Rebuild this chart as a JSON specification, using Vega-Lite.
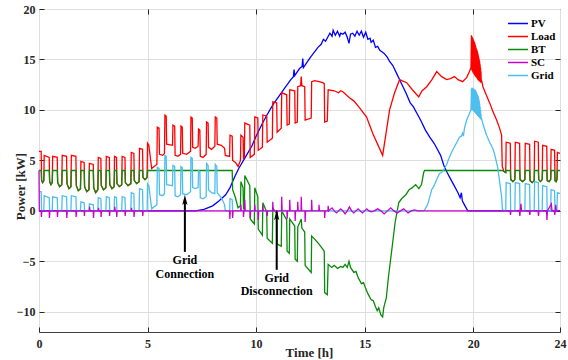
{
  "$schema": "https://vega.github.io/schema/vega-lite/v6.json",
  "width": 521,
  "height": 323,
  "autosize": {"type": "none"},
  "padding": {"left": 39, "top": 9, "right": 8, "bottom": 28},
  "background": "white",
  "config": {
    "view": {"stroke": "#404040", "strokeWidth": 1},
    "axis": {
      "labelFont": "Liberation Serif", "labelFontWeight": "bold", "labelFontSize": 12, "labelColor": "#262626",
      "titleFont": "Liberation Serif", "titleFontWeight": "bold", "titleFontSize": 13, "titleColor": "#262626",
      "domain": false, "tickColor": "#262626", "tickSize": -5, "gridColor": "#dedede", "gridWidth": 1,
      "labelFlush": false, "labelOverlap": false
    }
  },
  "datasets": {
    "pv": [
      {"t":0,"v":0},{"t":7.2,"v":0},{"t":7.6,"v":0.15},{"t":8.0,"v":0.5},{"t":8.3,"v":1.0},{"t":8.6,"v":1.6},{"t":8.8,"v":2.3},{"t":9.0,"v":3.3},{"t":9.2,"v":4.2},{"t":9.5,"v":5.3},{"t":9.8,"v":6.4},{"t":10.0,"v":7.4},{"t":10.3,"v":8.7},{"t":10.5,"v":9.5},{"t":10.8,"v":10.6},{"t":11.0,"v":11.2},{"t":11.3,"v":12.1},{"t":11.6,"v":13.0},{"t":11.72,"v":13.3},{"t":11.75,"v":14.0},{"t":11.78,"v":13.4},{"t":12.0,"v":14.1},{"t":12.12,"v":14.3},{"t":12.15,"v":15.1},{"t":12.18,"v":14.2},{"t":12.5,"v":15.2},{"t":12.85,"v":16.2},{"t":13.0,"v":16.5},{"t":13.1,"v":17.0},{"t":13.2,"v":16.8},{"t":13.4,"v":17.6},{"t":13.5,"v":17.3},{"t":13.55,"v":17.9},{"t":13.65,"v":17.4},{"t":13.75,"v":17.8},{"t":13.85,"v":17.3},{"t":13.9,"v":17.6},{"t":14.0,"v":17.5},{"t":14.1,"v":17.7},{"t":14.2,"v":17.2},{"t":14.28,"v":16.6},{"t":14.35,"v":17.5},{"t":14.45,"v":17.6},{"t":14.55,"v":17.3},{"t":14.65,"v":17.8},{"t":14.75,"v":17.4},{"t":14.85,"v":17.8},{"t":14.95,"v":17.2},{"t":15.05,"v":17.7},{"t":15.15,"v":17.0},{"t":15.25,"v":17.1},{"t":15.3,"v":16.7},{"t":15.4,"v":16.9},{"t":15.5,"v":16.2},{"t":15.6,"v":16.3},{"t":15.7,"v":15.9},{"t":15.9,"v":15.6},{"t":16.05,"v":15.2},{"t":16.15,"v":14.8},{"t":16.3,"v":14.4},{"t":16.5,"v":13.5},{"t":16.7,"v":12.6},{"t":16.9,"v":11.7},{"t":17.1,"v":10.7},{"t":17.25,"v":10.3},{"t":17.4,"v":9.7},{"t":17.6,"v":8.9},{"t":17.8,"v":8.0},{"t":18.0,"v":7.3},{"t":18.2,"v":6.7},{"t":18.35,"v":6.1},{"t":18.5,"v":5.5},{"t":18.65,"v":4.5},{"t":18.8,"v":3.8},{"t":18.95,"v":3.2},{"t":19.1,"v":2.6},{"t":19.3,"v":1.8},{"t":19.4,"v":1.3},{"t":19.46,"v":1.8},{"t":19.5,"v":1.0},{"t":19.6,"v":0.6},{"t":19.75,"v":0},{"t":24,"v":0}
    ],
    "load": [
      {"t":0,"v":5.9},{"t":0.1,"v":5.9},{"t":0.12,"v":3.0},{"t":0.17,"v":2.8},{"t":0.22,"v":3.0},{"t":0.24,"v":5.5},{"t":0.47,"v":5.3},{"t":0.49,"v":2.9},{"t":0.55,"v":2.6},{"t":0.61,"v":2.8},{"t":0.63,"v":5.4},{"t":0.84,"v":5.3},{"t":0.86,"v":2.8},{"t":0.95,"v":2.4},{"t":1.05,"v":2.6},{"t":1.07,"v":5.5},{"t":1.27,"v":5.4},{"t":1.29,"v":2.7},{"t":1.38,"v":2.2},{"t":1.47,"v":2.4},{"t":1.49,"v":5.5},{"t":1.70,"v":5.4},{"t":1.72,"v":2.5},{"t":1.81,"v":2.0},{"t":1.91,"v":2.2},{"t":1.93,"v":4.9},{"t":2.08,"v":4.8},{"t":2.10,"v":2.4},{"t":2.2,"v":1.9},{"t":2.30,"v":2.1},{"t":2.32,"v":4.7},{"t":2.50,"v":4.6},{"t":2.52,"v":2.3},{"t":2.61,"v":1.8},{"t":2.71,"v":2.1},{"t":2.73,"v":5.3},{"t":2.85,"v":5.2},{"t":2.87,"v":2.5},{"t":2.97,"v":2.1},{"t":3.08,"v":2.3},{"t":3.10,"v":5.4},{"t":3.24,"v":5.3},{"t":3.26,"v":2.6},{"t":3.36,"v":2.2},{"t":3.46,"v":2.4},{"t":3.48,"v":5.4},{"t":3.57,"v":5.3},{"t":3.59,"v":2.7},{"t":3.7,"v":2.4},{"t":3.81,"v":2.6},{"t":3.83,"v":5.4},{"t":3.96,"v":5.3},{"t":3.98,"v":2.8},{"t":4.1,"v":2.5},{"t":4.23,"v":2.7},{"t":4.25,"v":5.8},{"t":4.37,"v":5.7},{"t":4.39,"v":3.0},{"t":4.5,"v":2.7},{"t":4.61,"v":2.9},{"t":4.63,"v":6.2},{"t":4.77,"v":6.1},{"t":4.79,"v":3.3},{"t":4.88,"v":3.1},{"t":4.98,"v":3.3},
      {"t":5.0,"v":6.7},{"t":5.06,"v":6.5},{"t":5.19,"v":4.2},{"t":5.3,"v":4.4},{"t":5.43,"v":4.6},{"t":5.45,"v":8.3},{"t":5.53,"v":8.2},{"t":5.55,"v":5.6},{"t":5.7,"v":5.5},{"t":5.78,"v":5.7},{"t":5.8,"v":9.5},{"t":5.86,"v":9.4},{"t":5.88,"v":6.6},{"t":6.15,"v":6.5},{"t":6.17,"v":8.5},{"t":6.25,"v":8.4},{"t":6.27,"v":5.5},{"t":6.4,"v":5.4},{"t":6.52,"v":5.6},{"t":6.54,"v":8.4},{"t":6.6,"v":8.3},{"t":6.62,"v":5.7},{"t":6.8,"v":5.6},{"t":6.98,"v":5.9},{"t":7.0,"v":9.3},{"t":7.06,"v":9.2},{"t":7.08,"v":6.3},{"t":7.2,"v":6.2},{"t":7.33,"v":6.4},{"t":7.35,"v":8.1},{"t":7.41,"v":8.0},{"t":7.43,"v":5.4},{"t":7.55,"v":5.3},{"t":7.7,"v":5.6},{"t":7.72,"v":8.8},{"t":7.79,"v":8.7},{"t":7.81,"v":6.3},{"t":7.95,"v":6.1},{"t":8.1,"v":6.4},{"t":8.12,"v":9.3},{"t":8.19,"v":9.2},{"t":8.21,"v":6.6},{"t":8.4,"v":6.5},{"t":8.55,"v":6.2},{"t":8.58,"v":5.5},{"t":8.78,"v":5.4},{"t":8.8,"v":7.5},{"t":8.9,"v":7.4},{"t":8.92,"v":5.0},{"t":9.05,"v":4.8},{"t":9.17,"v":4.4},{"t":9.28,"v":5.0},{"t":9.3,"v":7.5},{"t":9.4,"v":7.3},{"t":9.42,"v":5.2},{"t":9.46,"v":5.3},{"t":9.48,"v":8.7},{"t":9.71,"v":8.5},{"t":9.73,"v":5.3},{"t":9.92,"v":5.6},{"t":9.94,"v":9.3},{"t":10.08,"v":9.2},{"t":10.1,"v":6.0},{"t":10.29,"v":6.3},{"t":10.31,"v":9.5},{"t":10.49,"v":9.4},{"t":10.51,"v":6.8},{"t":10.75,"v":7.2},{"t":10.77,"v":10.8},{"t":10.95,"v":10.7},{"t":10.97,"v":7.8},{"t":11.16,"v":8.2},{"t":11.18,"v":11.7},{"t":11.41,"v":11.5},{"t":11.43,"v":8.5},{"t":11.53,"v":8.6},{"t":11.55,"v":12.0},{"t":11.78,"v":11.9},{"t":11.8,"v":8.7},{"t":11.9,"v":8.8},{"t":11.92,"v":12.3},{"t":12.05,"v":12.4},{"t":12.08,"v":13.3},{"t":12.11,"v":12.4},{"t":12.24,"v":12.3},{"t":12.26,"v":9.0},{"t":12.54,"v":9.2},{"t":12.56,"v":12.8},{"t":12.7,"v":12.9},{"t":12.9,"v":12.8},{"t":13.07,"v":12.7},{"t":13.14,"v":12.6},{"t":13.16,"v":8.8},{"t":13.28,"v":8.9},{"t":13.32,"v":12.0},{"t":13.6,"v":11.9},{"t":13.8,"v":11.7},{"t":13.9,"v":11.9},{"t":14.0,"v":11.8},{"t":14.3,"v":11.2},{"t":14.5,"v":10.9},{"t":14.77,"v":10.2},{"t":15.09,"v":9.3},{"t":15.37,"v":7.7},{"t":15.83,"v":5.5},{"t":16.15,"v":10.0},{"t":16.38,"v":11.7},{"t":16.61,"v":13.0},{"t":16.94,"v":12.7},{"t":17.2,"v":12.0},{"t":17.49,"v":11.3},{"t":17.65,"v":11.9},{"t":17.86,"v":12.3},{"t":18.1,"v":13.0},{"t":18.32,"v":13.8},{"t":18.55,"v":13.3},{"t":18.78,"v":13.0},{"t":18.95,"v":13.1},{"t":19.14,"v":13.3},{"t":19.3,"v":13.0},{"t":19.51,"v":12.8},{"t":19.7,"v":13.2},{"t":19.83,"v":13.8},{"t":19.9,"v":14.2},
      {"t":19.92,"v":17.4},{"t":19.93,"v":14.0},{"t":19.94,"v":17.3},{"t":19.95,"v":13.9},{"t":19.96,"v":17.2},{"t":19.97,"v":13.8},{"t":19.98,"v":17.1},{"t":19.99,"v":13.7},{"t":20.0,"v":17.0},{"t":20.01,"v":13.6},{"t":20.02,"v":16.9},{"t":20.03,"v":13.6},{"t":20.04,"v":16.8},{"t":20.05,"v":13.5},{"t":20.06,"v":16.7},{"t":20.07,"v":13.4},{"t":20.08,"v":16.6},{"t":20.09,"v":13.4},{"t":20.1,"v":16.4},{"t":20.11,"v":13.3},{"t":20.12,"v":16.3},{"t":20.13,"v":13.3},{"t":20.14,"v":16.1},{"t":20.15,"v":13.2},{"t":20.16,"v":16.0},{"t":20.17,"v":13.2},{"t":20.18,"v":15.9},{"t":20.19,"v":13.1},{"t":20.2,"v":15.8},{"t":20.21,"v":13.0},{"t":20.22,"v":15.6},{"t":20.23,"v":13.0},{"t":20.24,"v":15.4},{"t":20.25,"v":12.9},{"t":20.26,"v":15.2},{"t":20.27,"v":12.9},{"t":20.28,"v":15.0},{"t":20.29,"v":12.8},{"t":20.3,"v":14.8},{"t":20.31,"v":12.8},{"t":20.32,"v":14.5},{"t":20.33,"v":12.8},{"t":20.34,"v":14.2},{"t":20.35,"v":12.7},{"t":20.36,"v":13.8},{"t":20.37,"v":12.7},{"t":20.38,"v":13.0},
      {"t":20.45,"v":12.3},{"t":20.6,"v":11.5},{"t":20.76,"v":10.7},{"t":20.9,"v":9.9},{"t":21.08,"v":9.0},{"t":21.2,"v":8.3},{"t":21.31,"v":7.5},{"t":21.34,"v":4.4},{"t":21.42,"v":3.9},{"t":21.5,"v":3.8},
      {"t":21.52,"v":6.8},{"t":21.71,"v":6.7},{"t":21.73,"v":3.1},{"t":21.83,"v":2.9},{"t":21.92,"v":3.1},{"t":21.94,"v":6.8},{"t":22.14,"v":6.7},{"t":22.16,"v":3.1},{"t":22.28,"v":2.9},{"t":22.38,"v":3.1},{"t":22.40,"v":6.7},{"t":22.60,"v":6.6},{"t":22.62,"v":3.0},{"t":22.72,"v":2.8},{"t":22.81,"v":3.0},{"t":22.83,"v":6.9},{"t":23.00,"v":6.8},{"t":23.02,"v":3.1},{"t":23.1,"v":2.9},{"t":23.18,"v":3.1},{"t":23.20,"v":6.5},{"t":23.39,"v":6.4},{"t":23.41,"v":3.0},{"t":23.5,"v":2.9},{"t":23.57,"v":3.1},{"t":23.59,"v":6.1},{"t":23.75,"v":6.0},{"t":23.77,"v":3.0},{"t":23.82,"v":2.9},{"t":23.86,"v":3.1},{"t":23.88,"v":5.8},{"t":24.0,"v":5.7}
    ],
    "bt": [
      {"t":0,"v":4.0},{"t":0.1,"v":4.0},{"t":0.12,"v":3.0},{"t":0.17,"v":2.8},{"t":0.22,"v":3.0},{"t":0.24,"v":4.0},{"t":0.47,"v":4.0},{"t":0.49,"v":2.9},{"t":0.55,"v":2.6},{"t":0.61,"v":2.8},{"t":0.63,"v":4.0},{"t":0.84,"v":4.0},{"t":0.86,"v":2.8},{"t":0.95,"v":2.4},{"t":1.05,"v":2.6},{"t":1.07,"v":4.0},{"t":1.27,"v":4.0},{"t":1.29,"v":2.7},{"t":1.38,"v":2.2},{"t":1.47,"v":2.4},{"t":1.49,"v":4.0},{"t":1.70,"v":4.0},{"t":1.72,"v":2.5},{"t":1.81,"v":2.0},{"t":1.91,"v":2.2},{"t":1.93,"v":4.0},{"t":2.08,"v":4.0},{"t":2.10,"v":2.4},{"t":2.2,"v":1.9},{"t":2.30,"v":2.1},{"t":2.32,"v":4.0},{"t":2.50,"v":4.0},{"t":2.52,"v":2.3},{"t":2.61,"v":1.8},{"t":2.71,"v":2.1},{"t":2.73,"v":4.0},{"t":2.85,"v":4.0},{"t":2.87,"v":2.5},{"t":2.97,"v":2.1},{"t":3.08,"v":2.3},{"t":3.10,"v":4.0},{"t":3.24,"v":4.0},{"t":3.26,"v":2.6},{"t":3.36,"v":2.2},{"t":3.46,"v":2.4},{"t":3.48,"v":4.0},{"t":3.57,"v":4.0},{"t":3.59,"v":2.7},{"t":3.7,"v":2.4},{"t":3.81,"v":2.6},{"t":3.83,"v":4.0},{"t":3.96,"v":4.0},{"t":3.98,"v":2.8},{"t":4.1,"v":2.5},{"t":4.23,"v":2.7},{"t":4.25,"v":4.0},{"t":4.37,"v":4.0},{"t":4.39,"v":3.0},{"t":4.5,"v":2.7},{"t":4.61,"v":2.9},{"t":4.63,"v":4.0},{"t":4.77,"v":4.0},{"t":4.79,"v":3.3},{"t":4.88,"v":3.1},{"t":4.98,"v":3.3},
      {"t":5.0,"v":4.0},{"t":8.75,"v":4.0},{"t":8.9,"v":4.0},{"t":8.92,"v":2.1},{"t":9.05,"v":1.3},{"t":9.17,"v":0.3},{"t":9.28,"v":0.5},{"t":9.3,"v":2.9},{"t":9.4,"v":2.3},{"t":9.42,"v":0.2},{"t":9.46,"v":0.2},{"t":9.48,"v":3.5},{"t":9.71,"v":2.5},{"t":9.73,"v":-0.8},{"t":9.92,"v":-1.3},{"t":9.94,"v":2.3},{"t":10.08,"v":1.4},{"t":10.1,"v":-1.8},{"t":10.29,"v":-2.4},{"t":10.31,"v":0.8},{"t":10.49,"v":-0.1},{"t":10.51,"v":-2.7},{"t":10.75,"v":-3.2},{"t":10.77,"v":0.3},{"t":10.95,"v":-0.3},{"t":10.97,"v":-3.3},{"t":11.16,"v":-3.5},{"t":11.18,"v":0.0},{"t":11.41,"v":-0.9},{"t":11.43,"v":-4.0},{"t":11.53,"v":-4.2},{"t":11.55,"v":-0.8},{"t":11.78,"v":-1.5},{"t":11.8,"v":-4.8},{"t":11.9,"v":-5.0},{"t":11.92,"v":-1.6},{"t":12.08,"v":-0.8},{"t":12.11,"v":-1.7},{"t":12.24,"v":-2.1},{"t":12.26,"v":-5.4},{"t":12.54,"v":-6.1},{"t":12.56,"v":-2.5},{"t":12.7,"v":-2.8},{"t":12.9,"v":-3.3},{"t":13.07,"v":-3.8},{"t":13.14,"v":-4.0},{"t":13.16,"v":-8.1},{"t":13.28,"v":-8.3},{"t":13.32,"v":-5.3},{"t":13.48,"v":-5.6},{"t":13.6,"v":-5.4},{"t":13.75,"v":-5.7},{"t":13.9,"v":-5.5},{"t":14.0,"v":-5.6},{"t":14.1,"v":-5.3},{"t":14.2,"v":-5.6},{"t":14.28,"v":-5.0},{"t":14.35,"v":-5.6},{"t":14.5,"v":-6.1},{"t":14.6,"v":-6.0},{"t":14.7,"v":-6.6},{"t":14.85,"v":-7.2},{"t":14.95,"v":-7.1},{"t":15.05,"v":-7.7},{"t":15.15,"v":-8.2},{"t":15.3,"v":-8.8},{"t":15.4,"v":-8.9},{"t":15.5,"v":-9.5},{"t":15.58,"v":-9.9},{"t":15.65,"v":-9.6},{"t":15.75,"v":-10.3},{"t":15.83,"v":-10.5},{"t":15.88,"v":-9.6},{"t":16.0,"v":-8.6},{"t":16.1,"v":-6.5},{"t":16.25,"v":-3.9},{"t":16.4,"v":-1.2},{"t":16.57,"v":0.8},{"t":16.7,"v":1.2},{"t":16.9,"v":1.6},{"t":17.05,"v":2.1},{"t":17.2,"v":2.3},{"t":17.35,"v":2.6},{"t":17.5,"v":2.2},{"t":17.62,"v":2.6},{"t":17.72,"v":3.8},{"t":17.76,"v":4.0},
      {"t":21.34,"v":4.0},{"t":21.42,"v":3.9},{"t":21.5,"v":3.8},{"t":21.52,"v":4.0},{"t":21.71,"v":4.0},{"t":21.73,"v":3.1},{"t":21.83,"v":2.9},{"t":21.92,"v":3.1},{"t":21.94,"v":4.0},{"t":22.14,"v":4.0},{"t":22.16,"v":3.1},{"t":22.28,"v":2.9},{"t":22.38,"v":3.1},{"t":22.40,"v":4.0},{"t":22.60,"v":4.0},{"t":22.62,"v":3.0},{"t":22.72,"v":2.8},{"t":22.81,"v":3.0},{"t":22.83,"v":4.0},{"t":23.00,"v":4.0},{"t":23.02,"v":3.1},{"t":23.1,"v":2.9},{"t":23.18,"v":3.1},{"t":23.20,"v":4.0},{"t":23.39,"v":4.0},{"t":23.41,"v":3.0},{"t":23.5,"v":2.9},{"t":23.57,"v":3.1},{"t":23.59,"v":4.0},{"t":23.75,"v":4.0},{"t":23.77,"v":3.0},{"t":23.82,"v":2.9},{"t":23.86,"v":3.1},{"t":23.88,"v":4.0},{"t":24.0,"v":4.0}
    ],
    "grid": [
      {"t":0,"v":1.9},{"t":0.1,"v":1.9},{"t":0.12,"v":0},{"t":0.22,"v":0},{"t":0.24,"v":1.5},{"t":0.47,"v":1.3},{"t":0.49,"v":0},{"t":0.61,"v":0},{"t":0.63,"v":1.4},{"t":0.84,"v":1.3},{"t":0.86,"v":0},{"t":1.05,"v":0},{"t":1.07,"v":1.5},{"t":1.27,"v":1.4},{"t":1.29,"v":0},{"t":1.47,"v":0},{"t":1.49,"v":1.5},{"t":1.70,"v":1.4},{"t":1.72,"v":0},{"t":1.91,"v":0},{"t":1.93,"v":0.9},{"t":2.08,"v":0.8},{"t":2.10,"v":0},{"t":2.30,"v":0},{"t":2.32,"v":0.7},{"t":2.50,"v":0.6},{"t":2.52,"v":0},{"t":2.71,"v":0},{"t":2.73,"v":1.3},{"t":2.85,"v":1.2},{"t":2.87,"v":0},{"t":3.08,"v":0},{"t":3.10,"v":1.4},{"t":3.24,"v":1.3},{"t":3.26,"v":0},{"t":3.46,"v":0},{"t":3.48,"v":1.4},{"t":3.57,"v":1.3},{"t":3.59,"v":0},{"t":3.81,"v":0},{"t":3.83,"v":1.4},{"t":3.96,"v":1.3},{"t":3.98,"v":0},{"t":4.23,"v":0},{"t":4.25,"v":1.8},{"t":4.37,"v":1.7},{"t":4.39,"v":0},{"t":4.61,"v":0},{"t":4.63,"v":2.2},{"t":4.77,"v":2.1},{"t":4.79,"v":0},{"t":4.98,"v":0},
      {"t":5.0,"v":2.7},{"t":5.06,"v":2.5},{"t":5.19,"v":0.2},{"t":5.3,"v":0.4},{"t":5.43,"v":0.6},{"t":5.45,"v":4.3},{"t":5.53,"v":4.2},{"t":5.55,"v":1.6},{"t":5.7,"v":1.5},{"t":5.78,"v":1.7},{"t":5.8,"v":5.5},{"t":5.86,"v":5.4},{"t":5.88,"v":2.6},{"t":6.15,"v":2.5},{"t":6.17,"v":4.5},{"t":6.25,"v":4.4},{"t":6.27,"v":1.5},{"t":6.4,"v":1.4},{"t":6.52,"v":1.6},{"t":6.54,"v":4.4},{"t":6.6,"v":4.3},{"t":6.62,"v":1.7},{"t":6.8,"v":1.6},{"t":6.98,"v":1.9},{"t":7.0,"v":5.3},{"t":7.06,"v":5.2},{"t":7.08,"v":2.3},{"t":7.2,"v":2.2},{"t":7.33,"v":2.3},{"t":7.35,"v":4.0},{"t":7.41,"v":3.9},{"t":7.43,"v":1.3},{"t":7.55,"v":1.2},{"t":7.7,"v":1.4},{"t":7.72,"v":4.7},{"t":7.79,"v":4.5},{"t":7.81,"v":2.1},{"t":7.95,"v":1.8},{"t":8.1,"v":1.7},{"t":8.12,"v":4.6},{"t":8.19,"v":4.4},{"t":8.21,"v":1.8},{"t":8.4,"v":1.3},{"t":8.55,"v":0.6},{"t":8.58,"v":0},{"t":8.78,"v":0},{"t":8.8,"v":1.2},{"t":8.9,"v":1.1},{"t":8.92,"v":0},
      {"t":17.72,"v":0},{"t":17.76,"v":0.1},{"t":17.9,"v":0.6},{"t":18.09,"v":2.1},{"t":18.2,"v":2.5},{"t":18.32,"v":3.1},{"t":18.45,"v":3.7},{"t":18.55,"v":3.8},{"t":18.65,"v":4.1},{"t":18.78,"v":4.6},{"t":18.9,"v":5.3},{"t":19.05,"v":6.0},{"t":19.2,"v":6.6},{"t":19.37,"v":7.3},{"t":19.45,"v":7.4},{"t":19.51,"v":7.7},{"t":19.55,"v":7.4},{"t":19.6,"v":8.2},{"t":19.7,"v":9.0},{"t":19.8,"v":9.5},{"t":19.9,"v":10.0},
      {"t":19.92,"v":12.1},{"t":19.93,"v":10.0},{"t":19.94,"v":12.2},{"t":19.95,"v":10.1},{"t":19.96,"v":12.1},{"t":19.97,"v":10.0},{"t":19.98,"v":12.2},{"t":19.99,"v":10.0},{"t":20.0,"v":12.1},{"t":20.01,"v":9.9},{"t":20.02,"v":12.0},{"t":20.03,"v":9.9},{"t":20.04,"v":12.1},{"t":20.05,"v":9.8},{"t":20.06,"v":12.0},{"t":20.07,"v":9.8},{"t":20.08,"v":11.9},{"t":20.09,"v":9.7},{"t":20.1,"v":12.0},{"t":20.11,"v":9.7},{"t":20.12,"v":11.9},{"t":20.13,"v":9.6},{"t":20.14,"v":11.8},{"t":20.15,"v":9.6},{"t":20.16,"v":11.7},{"t":20.17,"v":9.5},{"t":20.18,"v":11.6},{"t":20.19,"v":9.5},{"t":20.2,"v":11.5},{"t":20.21,"v":9.4},{"t":20.22,"v":11.4},{"t":20.23,"v":9.4},{"t":20.24,"v":11.3},{"t":20.25,"v":9.3},{"t":20.26,"v":11.1},{"t":20.27,"v":9.3},{"t":20.28,"v":10.9},{"t":20.29,"v":9.2},{"t":20.3,"v":10.6},{"t":20.31,"v":9.2},{"t":20.32,"v":10.3},{"t":20.33,"v":9.1},{"t":20.34,"v":10.0},{"t":20.35,"v":9.1},{"t":20.36,"v":9.6},{"t":20.37,"v":9.0},{"t":20.38,"v":9.2},
      {"t":20.45,"v":8.6},{"t":20.6,"v":7.6},{"t":20.76,"v":6.8},{"t":20.9,"v":6.2},{"t":20.98,"v":5.7},{"t":21.12,"v":4.4},{"t":21.2,"v":3.2},{"t":21.31,"v":1.4},{"t":21.35,"v":0.1},{"t":21.5,"v":0},
      {"t":21.52,"v":2.8},{"t":21.71,"v":2.7},{"t":21.73,"v":0},{"t":21.92,"v":0},{"t":21.94,"v":2.8},{"t":22.14,"v":2.7},{"t":22.16,"v":0},{"t":22.38,"v":0},{"t":22.40,"v":2.7},{"t":22.60,"v":2.6},{"t":22.62,"v":0},{"t":22.81,"v":0},{"t":22.83,"v":2.9},{"t":23.00,"v":2.8},{"t":23.02,"v":0},{"t":23.18,"v":0},{"t":23.20,"v":2.5},{"t":23.39,"v":2.4},{"t":23.41,"v":0},{"t":23.57,"v":0},{"t":23.59,"v":2.1},{"t":23.75,"v":2.0},{"t":23.77,"v":0},{"t":23.86,"v":0},{"t":23.88,"v":1.8},{"t":24.0,"v":1.7}
    ],
    "sc": [
      {"t":0,"v":4.0},{"t":0.015,"v":0},{"t":0.1,"v":0},{"t":0.11,"v":-0.6},{"t":0.13,"v":0},{"t":0.47,"v":0},{"t":0.48,"v":-0.7},{"t":0.5,"v":0},{"t":0.84,"v":0},{"t":0.85,"v":-0.6},{"t":0.87,"v":0},{"t":1.27,"v":0},{"t":1.28,"v":-0.7},{"t":1.3,"v":0},{"t":1.7,"v":0},{"t":1.71,"v":-0.6},{"t":1.73,"v":0},{"t":2.08,"v":0},{"t":2.09,"v":-0.5},{"t":2.11,"v":0},{"t":2.32,"v":0},{"t":2.33,"v":0.4},{"t":2.35,"v":0},{"t":2.5,"v":0},{"t":2.51,"v":-0.7},{"t":2.53,"v":0},{"t":2.73,"v":0},{"t":2.74,"v":0.3},{"t":2.76,"v":0},{"t":2.85,"v":0},{"t":2.86,"v":-0.6},{"t":2.88,"v":0},{"t":3.24,"v":0},{"t":3.25,"v":-0.5},{"t":3.27,"v":0},{"t":3.48,"v":0},{"t":3.49,"v":0.4},{"t":3.51,"v":0},{"t":3.57,"v":0},{"t":3.58,"v":-0.6},{"t":3.6,"v":0},{"t":3.96,"v":0},{"t":3.97,"v":-0.5},{"t":3.99,"v":0},{"t":4.25,"v":0},{"t":4.26,"v":0.3},{"t":4.28,"v":0},{"t":4.37,"v":0},{"t":4.38,"v":-0.6},{"t":4.4,"v":0},{"t":4.77,"v":0},{"t":4.78,"v":-0.5},{"t":4.8,"v":0},
      {"t":8.78,"v":0},{"t":8.79,"v":-0.8},{"t":8.81,"v":0},{"t":8.91,"v":0},{"t":8.92,"v":-0.7},{"t":8.94,"v":0},{"t":9.29,"v":0},{"t":9.3,"v":0.6},{"t":9.32,"v":0},{"t":9.41,"v":0},{"t":9.42,"v":-0.6},{"t":9.44,"v":0},{"t":9.47,"v":0},{"t":9.48,"v":1.1},{"t":9.5,"v":0},{"t":9.72,"v":0},{"t":9.73,"v":-0.7},{"t":9.75,"v":0},{"t":9.93,"v":0},{"t":9.94,"v":0.6},{"t":9.96,"v":0},{"t":10.09,"v":0},{"t":10.1,"v":-0.9},{"t":10.12,"v":0},{"t":10.3,"v":0},{"t":10.31,"v":0.5},{"t":10.33,"v":0},{"t":10.5,"v":0},{"t":10.51,"v":-0.5},{"t":10.53,"v":0},{"t":10.76,"v":0},{"t":10.77,"v":0.9},{"t":10.79,"v":0},{"t":10.96,"v":0},{"t":10.97,"v":-0.6},{"t":10.99,"v":0},{"t":11.17,"v":0},{"t":11.18,"v":1.4},{"t":11.2,"v":0},{"t":11.42,"v":0},{"t":11.43,"v":-0.8},{"t":11.45,"v":0},{"t":11.54,"v":0},{"t":11.55,"v":1.1},{"t":11.57,"v":0},{"t":11.79,"v":0},{"t":11.8,"v":-1.0},{"t":11.82,"v":0},{"t":11.91,"v":0},{"t":11.92,"v":0.9},{"t":11.94,"v":0},{"t":12.07,"v":0},{"t":12.08,"v":1.4},{"t":12.1,"v":0},{"t":12.25,"v":0},{"t":12.26,"v":-1.1},{"t":12.28,"v":0},{"t":12.55,"v":0},{"t":12.56,"v":1.1},{"t":12.58,"v":0},{"t":12.89,"v":0},{"t":12.9,"v":0.6},{"t":12.92,"v":0},{"t":13.15,"v":0},{"t":13.16,"v":-0.7},{"t":13.18,"v":0},{"t":13.31,"v":0},{"t":13.32,"v":0.5},{"t":13.34,"v":0},{"t":13.5,"v":0.3},{"t":13.6,"v":0},{"t":13.7,"v":-0.2},{"t":13.8,"v":0},{"t":13.9,"v":0.2},{"t":14.0,"v":0},{"t":14.1,"v":-0.3},{"t":14.2,"v":0},{"t":14.3,"v":0.4},{"t":14.4,"v":0},{"t":14.5,"v":-0.2},{"t":14.6,"v":0},{"t":14.7,"v":0.2},{"t":14.8,"v":0},{"t":14.9,"v":-0.2},{"t":15.0,"v":0},{"t":15.1,"v":0.2},{"t":15.2,"v":0},{"t":15.3,"v":-0.1},{"t":15.45,"v":0},{"t":15.6,"v":0.2},{"t":15.75,"v":0},{"t":15.9,"v":-0.3},{"t":16.05,"v":0},{"t":16.2,"v":0.3},{"t":16.35,"v":0},{"t":16.5,"v":-0.2},{"t":16.65,"v":0},{"t":16.8,"v":0.2},{"t":16.9,"v":0},{"t":17.0,"v":-0.2},{"t":17.15,"v":0},{"t":17.3,"v":0.1},{"t":17.45,"v":0},
      {"t":21.7,"v":0},{"t":21.72,"v":-0.4},{"t":21.74,"v":0},{"t":22.13,"v":0},{"t":22.15,"v":-0.5},{"t":22.17,"v":0},{"t":22.2,"v":0.7},{"t":22.23,"v":0},{"t":22.59,"v":0},{"t":22.61,"v":-0.4},{"t":22.63,"v":0},{"t":22.99,"v":0},{"t":23.01,"v":-0.5},{"t":23.03,"v":0},{"t":23.38,"v":0},{"t":23.4,"v":-0.9},{"t":23.42,"v":0},{"t":23.6,"v":0.7},{"t":23.63,"v":0},{"t":23.74,"v":0},{"t":23.76,"v":-0.4},{"t":23.78,"v":0},{"t":23.8,"v":0.6},{"t":23.83,"v":0},{"t":24,"v":0}
    ],
    "arrows": [
      {"t":6.72,"v0":-4.06,"v1":1.09},
      {"t":10.95,"v0":-5.84,"v1":-0.40}
    ],
    "notes": [
      {"t":6.72,"v":-4.85,"label":"Grid"},
      {"t":6.72,"v":-6.24,"label":"Connection"},
      {"t":10.95,"v":-6.63,"label":"Grid"},
      {"t":10.95,"v":-7.97,"label":"Disconnection"}
    ]
  },
  "layer": [
    {
      "encoding": {
        "x": {"field": "t", "type": "quantitative", "scale": {"domain": [0, 24], "nice": false},
          "axis": {"values": [0, 5, 10, 15, 20, 24], "title": "Time [h]", "titleX": 270, "titleY": 24, "titleBaseline": "alphabetic", "labelPadding": 11, "grid": true}},
        "y": {"field": "v", "type": "quantitative", "scale": {"domain": [-12, 20], "nice": false},
          "axis": {"values": [-10, -5, 0, 5, 10, 15, 20], "title": "Power [kW]", "titleX": -19, "titleY": 177, "titleBaseline": "middle", "labelPadding": 9, "grid": true}}
      },
      "layer": [
        {
          "data": {"name": "pv"},
          "mark": {"type": "line", "strokeWidth": 1.3},
          "encoding": {
            "color": {"datum": "PV", "type": "nominal",
              "scale": {"domain": ["PV", "Load", "BT", "SC", "Grid"], "range": ["#0000FF", "#FF0000", "#0A8A0A", "#CC00CC", "#4DBEEE"]},
              "legend": {"orient": "none", "legendX": 468, "legendY": 8, "title": null, "labelFont": "Liberation Serif", "labelFontWeight": "bold", "labelFontSize": 11, "labelColor": "#000000", "symbolType": "stroke", "symbolSize": 400, "symbolStrokeWidth": 1.5, "labelOffset": 2, "clipHeight": 13, "rowPadding": 0, "padding": 0}}
          }
        },
        {
          "data": {"name": "load"},
          "mark": {"type": "line", "strokeWidth": 1.3},
          "encoding": {"color": {"datum": "Load", "type": "nominal"}}
        },
        {
          "data": {"name": "bt"},
          "mark": {"type": "line", "strokeWidth": 1.3},
          "encoding": {"color": {"datum": "BT", "type": "nominal"}}
        },
        {
          "data": {"name": "grid"},
          "mark": {"type": "line", "strokeWidth": 1.3},
          "encoding": {"color": {"datum": "Grid", "type": "nominal"}}
        },
        {
          "data": {"name": "sc"},
          "mark": {"type": "line", "strokeWidth": 1.3},
          "encoding": {"color": {"datum": "SC", "type": "nominal"}}
        },
        {
          "data": {"name": "arrows"},
          "mark": {"type": "rule", "color": "#000000", "strokeWidth": 2},
          "encoding": {
            "y": {"field": "v0", "type": "quantitative"},
            "y2": {"field": "v1"}
          }
        },
        {
          "data": {"name": "arrows"},
          "mark": {"type": "point", "shape": "M0,-1L0.5,1L0,0.55L-0.5,1Z", "filled": true, "color": "#000000", "size": 110, "opacity": 1},
          "encoding": {
            "y": {"field": "v1", "type": "quantitative"}
          }
        },
        {
          "data": {"name": "notes"},
          "mark": {"type": "text", "font": "Liberation Serif", "fontWeight": "bold", "fontSize": 12, "color": "#000000", "align": "center", "baseline": "middle"},
          "encoding": {"text": {"field": "label"}}
        }
      ]
    },
    {
      "data": {"name": "notes"},
      "mark": {"type": "point", "opacity": 0},
      "encoding": {
        "x": {"field": "t", "type": "quantitative",
          "axis": {"orient": "top", "values": [5, 10, 15, 20], "labels": false, "title": null, "grid": false}},
        "y": {"field": "v", "type": "quantitative",
          "axis": {"orient": "right", "values": [-10, -5, 0, 5, 10, 15], "labels": false, "title": null, "grid": false}}
      }
    }
  ],
  "resolve": {"axis": {"x": "independent", "y": "independent"}}
}
